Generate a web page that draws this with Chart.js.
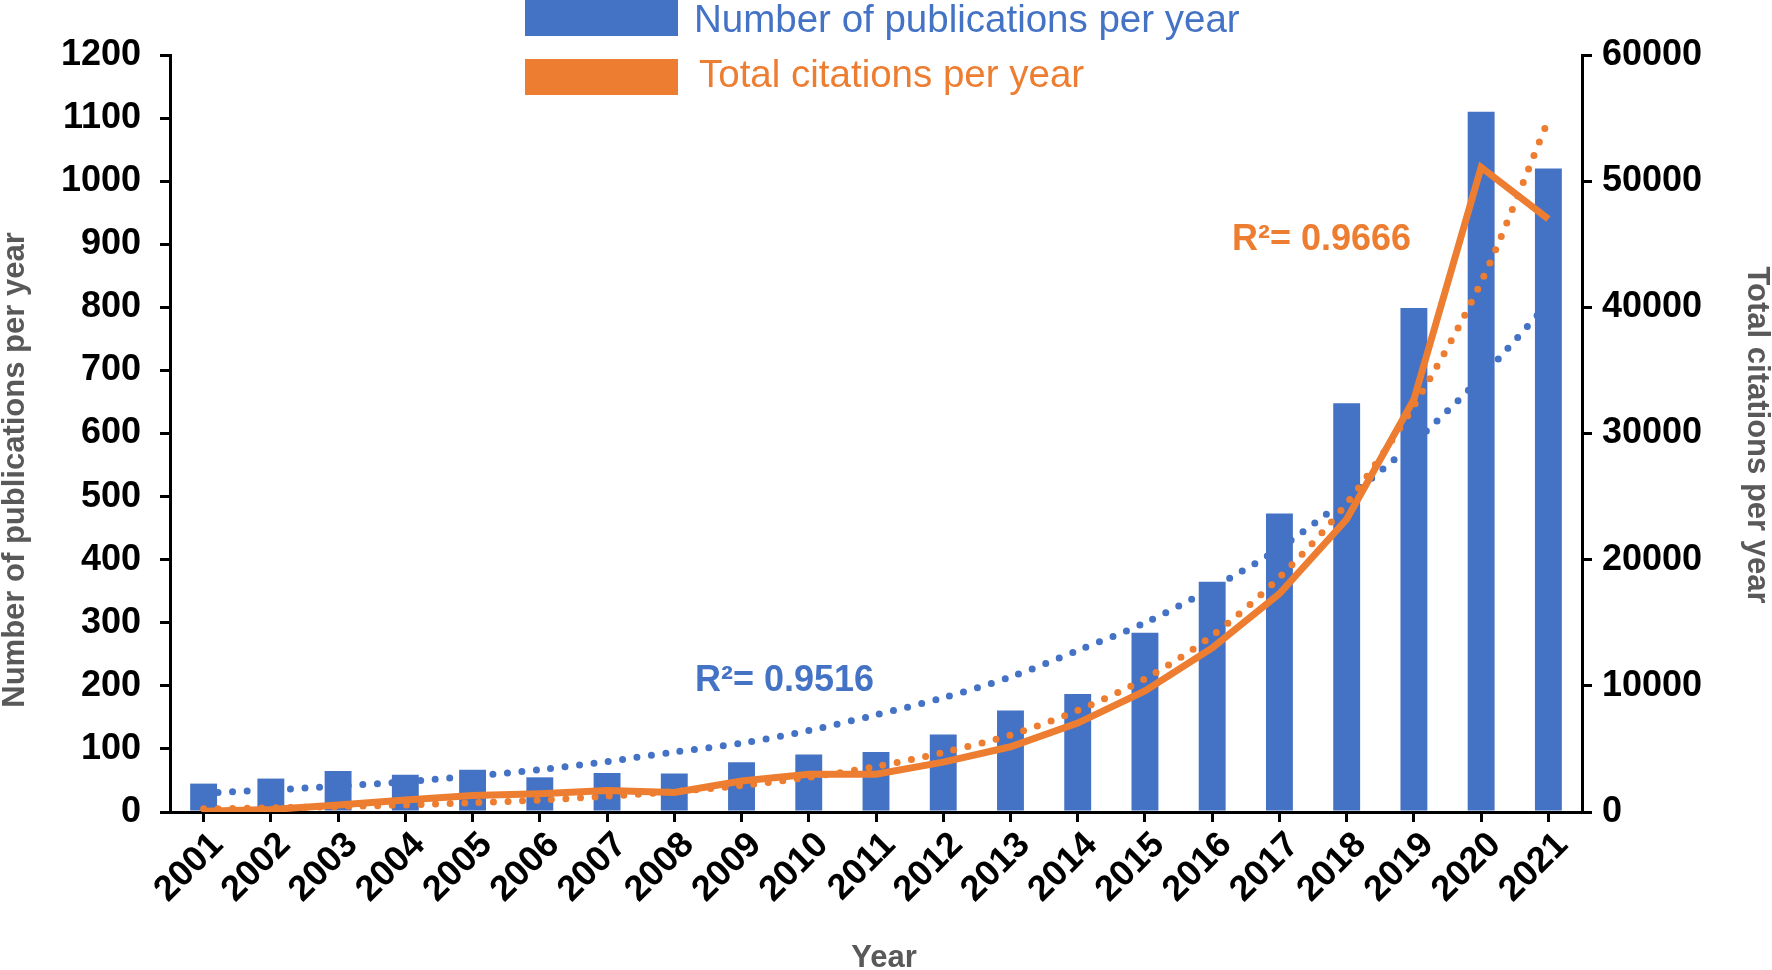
<!DOCTYPE html>
<html>
<head>
<meta charset="utf-8">
<script src="https://cdn.jsdelivr.net/npm/chart.js"></script>
<style>
  body{margin:0;background:#fff;}
  canvas{display:block;}
</style>
</head>
<body>
<canvas id="chart" width="1772" height="970"></canvas>
<script>
// ---- data ----
const years = ["2001","2002","2003","2004","2005","2006","2007","2008","2009","2010","2011",
               "2012","2013","2014","2015","2016","2017","2018","2019","2020","2021"];
const publications = [45,53,65,59,67,55,62,61,79,91,95,123,161,187,284,365,473,648,799,1110,1020];
const citations = [50,200,550,950,1300,1450,1700,1550,2450,3000,3000,3950,5170,7050,9600,
                   13000,17300,23200,32700,51100,47000];
// dotted exponential trendlines as drawn in the figure
const pubTrend = [30,35,41,48,57,67,80,95,109,129,154,181,214,256,300,355,418,497,586,689,807];
const citTrend = [250,330,430,560,730,950,1250,1620,2100,2750,3600,4720,6100,8050,10560,
                  13980,18600,24450,32200,42000,54850];

const legendLabels = ["Number of publications per year","Total citations per year"];
const r2Labels = ["R\u00b2= 0.9516","R\u00b2= 0.9666"];
const axisTitles = {x:"Year", y:"Number of publications per year", y1:"Total citations per year"};

const BLUE = "#4472C4";
const ORANGE = "#ED7D31";
const GREY = "#595959";
const FONT = "Arial, 'Liberation Sans', sans-serif";

// legend, R² notes and axis titles
const extras = {
  id:"extras",
  afterDraw(chart){
    const ctx = chart.ctx;
    const a = chart.chartArea;
    ctx.save();

    // legend
    ctx.fillStyle = BLUE;
    ctx.fillRect(525,0,153,36);
    ctx.fillStyle = ORANGE;
    ctx.fillRect(525,59,153,36);
    ctx.font = "38.5px " + FONT;
    ctx.textBaseline = "alphabetic";
    ctx.textAlign = "left";
    ctx.fillStyle = BLUE;
    ctx.fillText(legendLabels[0],694,32);
    ctx.fillStyle = ORANGE;
    ctx.fillText(legendLabels[1],699,87);

    // R² notes
    ctx.font = "bold 36px " + FONT;
    ctx.fillStyle = BLUE;
    ctx.fillText(r2Labels[0],695,691);
    ctx.fillStyle = ORANGE;
    ctx.fillText(r2Labels[1],1232,250);

    // axis titles
    ctx.fillStyle = GREY;
    ctx.font = "bold 31px " + FONT;
    ctx.textAlign = "center";
    ctx.fillText(axisTitles.x,(a.left+a.right)/2 + 8,967);

    ctx.textBaseline = "middle";
    ctx.save();
    ctx.translate(15,470);
    ctx.rotate(-Math.PI/2);
    ctx.fillText(axisTitles.y,0,0);
    ctx.restore();

    ctx.save();
    ctx.translate(1757,435);
    ctx.rotate(Math.PI/2);
    ctx.fillText(axisTitles.y1,0,0);
    ctx.restore();

    ctx.restore();
  }
};

const axisGrid = {display:true, drawOnChartArea:false, drawTicks:true, tickLength:10, color:"#000", lineWidth:3};
const axisBorder = {display:true, color:"#000", width:3};
const tickFont = {family:FONT, size:36, weight:"bold"};
const plain = v => String(v);

new Chart(document.getElementById("chart"), {
  data:{
    labels:years,
    datasets:[
      {
        type:"line", label:"Total citations per year", data:citations, yAxisID:"y1",
        borderColor:ORANGE, borderWidth:7, pointRadius:0, tension:0, fill:false, order:0
      },
      {
        type:"line", label:"citations trend", data:citTrend, yAxisID:"y1",
        borderColor:ORANGE, borderWidth:7, borderDash:[0,14.5], borderCapStyle:"round",
        pointRadius:0, tension:0.3, fill:false, order:1
      },
      {
        type:"line", label:"publications trend", data:pubTrend, yAxisID:"y",
        borderColor:BLUE, borderWidth:7, borderDash:[0,14.5], borderCapStyle:"round",
        pointRadius:0, tension:0.3, fill:false, order:2
      },
      {
        type:"bar", label:"Number of publications per year", data:publications, yAxisID:"y",
        backgroundColor:BLUE, barPercentage:0.4, categoryPercentage:1, order:3
      }
    ]
  },
  options:{
    responsive:false,
    animation:false,
    devicePixelRatio:1,
    layout:{padding:{top:55,left:0,right:0,bottom:0}},
    plugins:{legend:{display:false}, tooltip:{enabled:false}},
    scales:{
      x:{
        offset:true,
        grid:Object.assign({}, axisGrid, {offset:false}),
        border:axisBorder,
        ticks:{color:"#000", font:tickFont, autoSkip:false, maxRotation:45, minRotation:45, padding:2, labelOffset:14},
        afterFit(s){ s.height = 158; }
      },
      y:{
        position:"left", min:0, max:1200,
        grid:axisGrid, border:axisBorder,
        ticks:{stepSize:100, color:"#000", font:tickFont, padding:19, callback:plain},
        afterFit(s){ s.width = 170; }
      },
      y1:{
        position:"right", min:0, max:60000,
        grid:axisGrid, border:axisBorder,
        ticks:{stepSize:10000, color:"#000", font:tickFont, padding:10, callback:plain},
        afterFit(s){ s.width = 190; }
      }
    }
  },
  plugins:[extras]
});
</script>
</body>
</html>
